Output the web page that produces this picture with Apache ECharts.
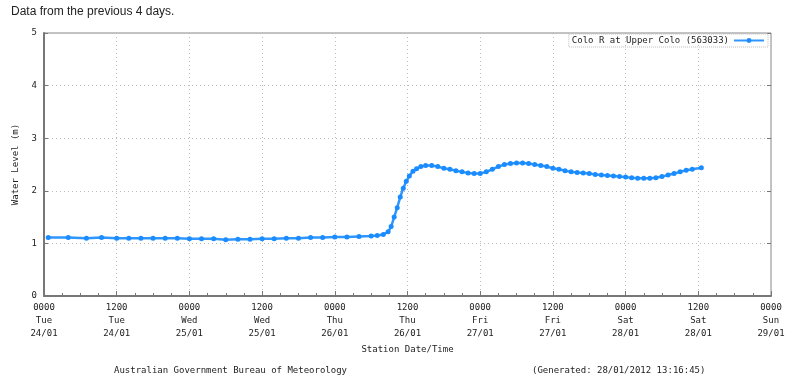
<html>
<head>
<meta charset="UTF-8">
<style>html,body{margin:0;padding:0;background:#fff;}</style>
</head>
<body>
<div id="container" style="width:799px;height:382px"></div>
<script type="text/javascript" src="https://cdn.jsdelivr.net/npm/echarts@6/dist/echarts.min.js"></script>
<script type="text/javascript">
// hours since 0000 Tue 24/01 and water level (m)
var hours = [
    0.7, 4, 7, 9.5, 12, 14, 16, 18, 20, 22,
    24, 26, 28, 30, 32, 34, 36, 38, 40, 42,
    44, 46, 48, 50, 52, 54, 55, 56, 56.8, 57.3,
    57.8, 58.3, 58.8, 59.3, 59.8, 60.3, 60.9, 61.5, 62.2, 63,
    64, 65, 66, 67, 68, 69, 70, 71, 72, 73,
    74, 75, 76, 77, 78, 79, 80, 81, 82, 83,
    84, 85, 86, 87, 88, 89, 90, 91, 92, 93,
    94, 95, 96, 97, 98, 99, 100, 101, 102, 103,
    104, 105, 106, 107, 108.5
];
var levels = [
    1.11, 1.11, 1.10, 1.11, 1.10, 1.10, 1.10, 1.10, 1.10, 1.10,
    1.09, 1.09, 1.09, 1.07, 1.08, 1.08, 1.09, 1.09, 1.10, 1.10,
    1.11, 1.11, 1.12, 1.12, 1.13, 1.14, 1.15, 1.17, 1.22, 1.32,
    1.50, 1.68, 1.88, 2.05, 2.18, 2.28, 2.37, 2.42, 2.46, 2.48,
    2.48, 2.46, 2.43, 2.41, 2.38, 2.36, 2.34, 2.33, 2.33, 2.36,
    2.41, 2.46, 2.50, 2.52, 2.53, 2.53, 2.52, 2.50, 2.48, 2.46,
    2.43, 2.41, 2.38, 2.36, 2.35, 2.34, 2.33, 2.31, 2.30, 2.29,
    2.28, 2.27, 2.26, 2.25, 2.24, 2.24, 2.24, 2.25, 2.27, 2.30,
    2.33, 2.36, 2.39, 2.41, 2.44
];
var tickTimes = ['0000', '1200', '0000', '1200', '0000', '1200', '0000', '1200', '0000', '1200', '0000'];
var tickDays = ['Tue', 'Tue', 'Wed', 'Wed', 'Thu', 'Thu', 'Fri', 'Fri', 'Sat', 'Sat', 'Sun'];
var tickDates = ['24/01', '24/01', '25/01', '25/01', '26/01', '26/01', '27/01', '27/01', '28/01', '28/01', '29/01'];

var mono = 'DejaVu Sans Mono';
var seriesData = [];
for (var i = 0; i < hours.length; i++) {
    seriesData.push([hours[i], levels[i]]);
}

var myChart = echarts.init(document.getElementById('container'));
var option = {
    animation: false,
    title: {
        text: 'Data from the previous 4 days.',
        left: 6, top: 1,
        textStyle: {fontFamily: 'Liberation Sans', fontSize: 12, fontWeight: 'normal', color: '#222'}
    },
    grid: {
        left: 44, right: 28, top: 33, bottom: 86,
        show: true, borderColor: '#888', borderWidth: 1
    },
    legend: {
        right: 31, top: 34,
        align: 'right',
        itemWidth: 30, itemHeight: 6,
        padding: [2, 3],
        borderColor: '#bbb', borderWidth: 1, borderType: 'dotted',
        textStyle: {fontFamily: mono, fontSize: 9, color: '#222'},
        data: ['Colo R at Upper Colo (563033)']
    },
    xAxis: {
        type: 'value', min: 0, max: 120, interval: 12,
        name: 'Station Date/Time', nameLocation: 'middle', nameGap: 48,
        nameTextStyle: {fontFamily: mono, fontSize: 9, color: '#222'},
        axisLine: {lineStyle: {color: '#777', width: 2}},
        axisTick: {inside: true, length: 5, lineStyle: {color: '#777'}},
        minorTick: {show: true, splitNumber: 4, length: 3, lineStyle: {color: '#777'}},
        splitLine: {show: true, lineStyle: {color: '#bbb', type: [1, 3]}},
        axisLabel: {
            margin: 5, lineHeight: 13,
            fontFamily: mono, fontSize: 9, color: '#222',
            formatter: function (v) {
                var k = Math.round(v / 12);
                return tickTimes[k] + '\n' + tickDays[k] + '\n' + tickDates[k];
            }
        }
    },
    yAxis: [{
        type: 'value', min: 0, max: 5, interval: 1,
        name: 'Water Level (m)', nameLocation: 'middle', nameGap: 24,
        nameTextStyle: {fontFamily: mono, fontSize: 9, color: '#222'},
        axisLine: {show: true, lineStyle: {color: '#777', width: 2}},
        axisTick: {show: true, inside: true, length: 4, lineStyle: {color: '#777'}},
        splitLine: {show: true, lineStyle: {color: '#bbb', type: [1, 3]}},
        axisLabel: {margin: 7, fontFamily: mono, fontSize: 9, color: '#222'}
    }, {
        type: 'value', min: 0, max: 5, interval: 1, position: 'right',
        axisLine: {show: false},
        axisTick: {show: true, inside: true, length: 4, lineStyle: {color: '#777'}},
        splitLine: {show: false},
        axisLabel: {show: false}
    }],
    series: [{
        name: 'Colo R at Upper Colo (563033)',
        type: 'line',
        data: seriesData,
        symbol: 'circle',
        symbolSize: 5,
        showSymbol: true,
        lineStyle: {color: '#2f96ff', width: 2.5},
        itemStyle: {color: '#1a8cff'}
    }],
    graphic: [{
        type: 'text', left: 114, top: 366,
        style: {text: 'Australian Government Bureau of Meteorology', font: '9px "DejaVu Sans Mono"', fill: '#222'}
    }, {
        type: 'text', left: 532, top: 366,
        style: {text: '(Generated: 28/01/2012 13:16:45)', font: '9px "DejaVu Sans Mono"', fill: '#222'}
    }]
};
myChart.setOption(option);
</script>
</body>
</html>
